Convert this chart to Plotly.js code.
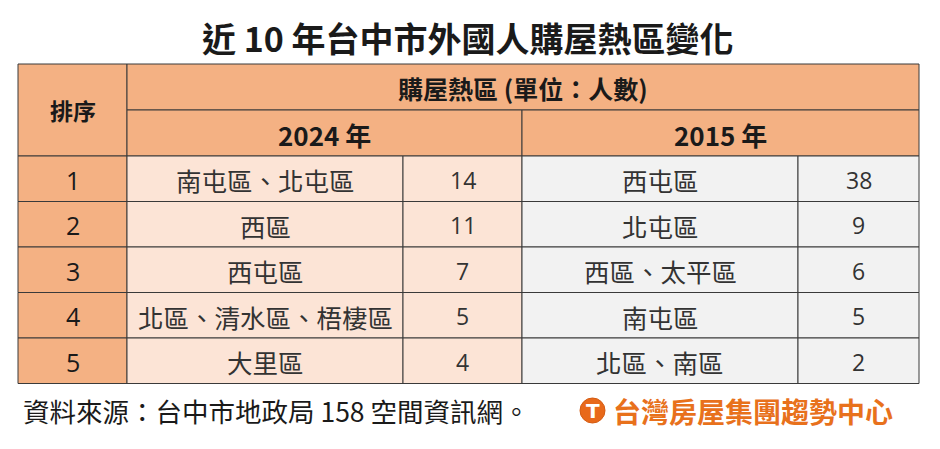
<!DOCTYPE html>
<html>
<head>
<meta charset="utf-8">
<script src="https://cdn.plot.ly/plotly-3.0.1.min.js"></script>
<style>
  html, body { margin: 0; padding: 0; background: #fff; }
  #chart { width: 940px; height: 449px; }
</style>
</head>
<body>
<div id="chart"></div>
<script>
// datos de la tabla
const ranks = ['1', '2', '3', '4', '5'];
const districts2024 = ['南屯區、北屯區', '西區', '西屯區', '北區、清水區、梧棲區', '大里區'];
const counts2024 = [14, 11, 7, 5, 4];
const districts2015 = ['西屯區', '北屯區', '西區、太平區', '南屯區', '北區、南區'];
const counts2015 = [38, 9, 6, 5, 2];
const years = ['2024 年', '2015 年'];

const titleText = '近 10 年台中市外國人購屋熱區變化';
const headRank = '排序';
const headGroup = '購屋熱區 (單位：人數)';
const sourceText = '資料來源：台中市地政局 158 空間資訊網。';
const logoText = '台灣房屋集團趨勢中心';

// geometría (px)
const colEdges = [18, 127, 403, 522, 798, 919];
const headTop = 64, headMid = 110, headBot = 156;
const rowH = 45.5;

const ORANGE = '#F4B183';
const PEACH = '#FCE4D6';
const GREY = '#F2F2F2';
const LINE = '#3a3a3a';
const CJK = '"Noto Sans CJK TC", "Noto Sans", sans-serif';
const NUM = '"Open Sans", sans-serif';

const shapes = [];
const annotations = [];

function rect(x0, x1, y0, y1, fill) {
  shapes.push({
    type: 'rect', xref: 'x', yref: 'y', x0, x1, y0, y1,
    fillcolor: fill, line: { color: LINE, width: 1 }, layer: 'below'
  });
}
function label(x, y, text, size, family, color, anchor) {
  annotations.push({
    x, y, xref: 'x', yref: 'y', text, showarrow: false,
    xanchor: anchor || 'center', yanchor: 'middle',
    font: { family: family || CJK, size, color: color || '#1a1a1a' }
  });
}
const cx = i => (colEdges[i] + colEdges[i + 1]) / 2;

// cabecera
rect(colEdges[0], colEdges[1], headTop, headBot, ORANGE);
rect(colEdges[1], colEdges[5], headTop, headMid, ORANGE);
rect(colEdges[1], colEdges[3], headMid, headBot, ORANGE);
rect(colEdges[3], colEdges[5], headMid, headBot, ORANGE);
label(cx(0), (headTop + headBot) / 2, '<b>' + headRank + '</b>', 23);
label((colEdges[1] + colEdges[5]) / 2, (headTop + headMid) / 2 + 1, '<b>' + headGroup + '</b>', 25);
label((colEdges[1] + colEdges[3]) / 2, (headMid + headBot) / 2 + 1, '<b>' + years[0] + '</b>', 26);
label((colEdges[3] + colEdges[5]) / 2, (headMid + headBot) / 2 + 1, '<b>' + years[1] + '</b>', 26);

// filas
ranks.forEach((r, i) => {
  const y0 = headBot + i * rowH, y1 = y0 + rowH, ym = (y0 + y1) / 2 + 1;
  rect(colEdges[0], colEdges[1], y0, y1, ORANGE);
  rect(colEdges[1], colEdges[2], y0, y1, PEACH);
  rect(colEdges[2], colEdges[3], y0, y1, PEACH);
  rect(colEdges[3], colEdges[4], y0, y1, GREY);
  rect(colEdges[4], colEdges[5], y0, y1, GREY);
  label(cx(0), ym, r, 25, NUM);
  label(cx(1), ym, districts2024[i], 25.5, CJK, '#333');
  label(cx(2), ym, String(counts2024[i]), 23, NUM, '#333');
  label(cx(3), ym, districts2015[i], 25.5, CJK, '#333');
  label(cx(4), ym, String(counts2015[i]), 23, NUM, '#333');
});

// título, fuente y logo
label(468, 37, '<b>' + titleText + '</b>', 34);
label(21, 410, sourceText, 26.5, CJK, '#1a1a1a', 'left');

shapes.push({
  type: 'circle', xref: 'x', yref: 'y', x0: 580, x1: 605, y0: 398, y1: 423,
  fillcolor: '#E8691A', line: { color: '#D45A10', width: 1 }
});
label(592.5, 411, '<b>T</b>', 20, '"DejaVu Sans", sans-serif', '#fff');
label(611, 411, '<b>' + logoText + '</b>', 28, CJK, '#E8711C', 'left');

const layout = {
  width: 940,
  height: 449,
  margin: { l: 0, r: 0, t: 0, b: 0 },
  paper_bgcolor: '#fff',
  plot_bgcolor: '#fff',
  xaxis: { range: [0, 940], visible: false, fixedrange: true },
  yaxis: { range: [449, 0], visible: false, fixedrange: true },
  showlegend: false,
  shapes,
  annotations
};

Plotly.newPlot('chart', [], layout, { displayModeBar: false, staticPlot: true });
</script>
</body>
</html>
